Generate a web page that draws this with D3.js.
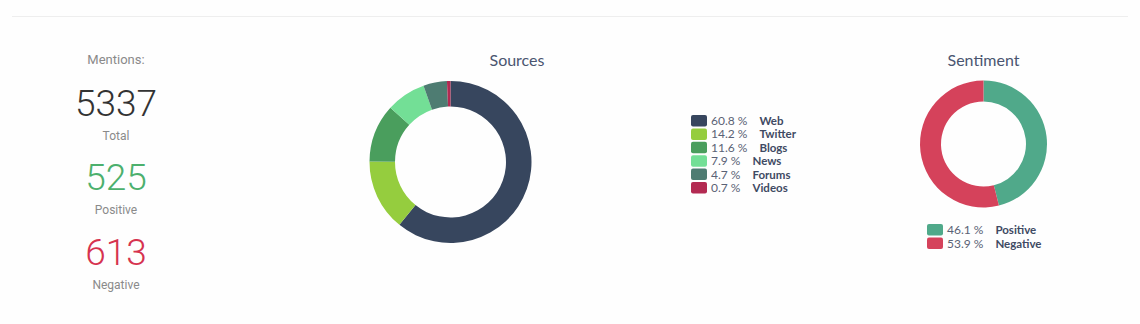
<!DOCTYPE html>
<html><head><meta charset="utf-8">
<script src="https://cdn.jsdelivr.net/npm/d3@7"></script>
<style>
html,body{margin:0;padding:0;background:#fefefe;}
svg{display:block;}
</style></head>
<body>
<svg id="c" width="1140" height="324"></svg>
<script>
const sourceNames = ["Web","Twitter","Blogs","News","Forums","Videos"];
const sourceValues = [60.8,14.2,11.6,7.9,4.7,0.7];
const sourceColors = ["#37465e","#95cd3e","#4a9e5d","#73df96","#4e7c72","#b32a52"];
const sentimentNames = ["Positive","Negative"];
const sentimentValues = [46.1,53.9];
const sentimentColors = ["#50a98a","#d5425b"];
const mentionLabels = ["Total","Positive","Negative"];
const mentionValues = [5337,525,613];
const mentionColors = ["#333333","#4cb06d","#d6334f"];

const svg = d3.select("#c");
svg.append("line").attr("x1",12).attr("x2",1128).attr("y1",16.5).attr("y2",16.5)
  .attr("stroke","#eeeeee").attr("stroke-width",1);

// Mentions
const m = svg.append("g").attr("font-family","Roboto, sans-serif").attr("text-anchor","middle");
m.append("text").attr("x",116).attr("y",64).attr("font-size",13).attr("fill","#8a8a8a").text("Mentions:");
const ys = [116,190,265];
mentionValues.forEach((v,i)=>{
  m.append("text").attr("x",116).attr("y",ys[i]).attr("font-size",37).attr("font-weight",300)
    .attr("fill",mentionColors[i]).text(v);
  m.append("text").attr("x",116).attr("y",ys[i]+24).attr("font-size",12).attr("fill","#8a8a8a").text(mentionLabels[i]);
});

function donut(cx,cy,ro,ri,values,colors){
  const pie = d3.pie().sort(null).value(d=>d);
  const arc = d3.arc().outerRadius(ro).innerRadius(ri);
  svg.append("g").attr("transform",`translate(${cx},${cy})`)
    .selectAll("path").data(pie(values)).join("path")
    .attr("d",arc).attr("fill",(d,i)=>colors[i]);
}
function legend(x,y,step,names,values,colors){
  const g = svg.append("g").attr("font-family","Lato, sans-serif").attr("font-size",12);
  names.forEach((n,i)=>{
    const yy = y + i*step;
    g.append("rect").attr("x",x).attr("y",yy-6).attr("width",16).attr("height",11.5).attr("rx",2)
      .attr("fill",colors[i]);
    const t = g.append("text").attr("x",x+20).attr("y",yy+4).attr("fill","#5a6275");
    t.append("tspan").text(values[i].toFixed(1)+" %");
    t.append("tspan").attr("dx",12).attr("font-weight",700).attr("font-size",11.5).attr("fill","#3f4a63").text(n);
  });
}

// Sources
svg.append("text").attr("x",517).attr("y",66).attr("text-anchor","middle")
  .attr("font-family","Lato, sans-serif").attr("font-size",16).attr("fill","#4a5570").text("Sources");
donut(450.5,162,81,55.5,sourceValues,sourceColors);
legend(691,121,13.4,sourceNames,sourceValues,sourceColors);

// Sentiment
svg.append("text").attr("x",983.5).attr("y",66).attr("text-anchor","middle")
  .attr("font-family","Lato, sans-serif").attr("font-size",16).attr("fill","#4a5570").text("Sentiment");
donut(983.5,144,63.5,42.5,sentimentValues,sentimentColors);
legend(927,230,13.6,sentimentNames,sentimentValues,sentimentColors);
</script>
</body></html>
